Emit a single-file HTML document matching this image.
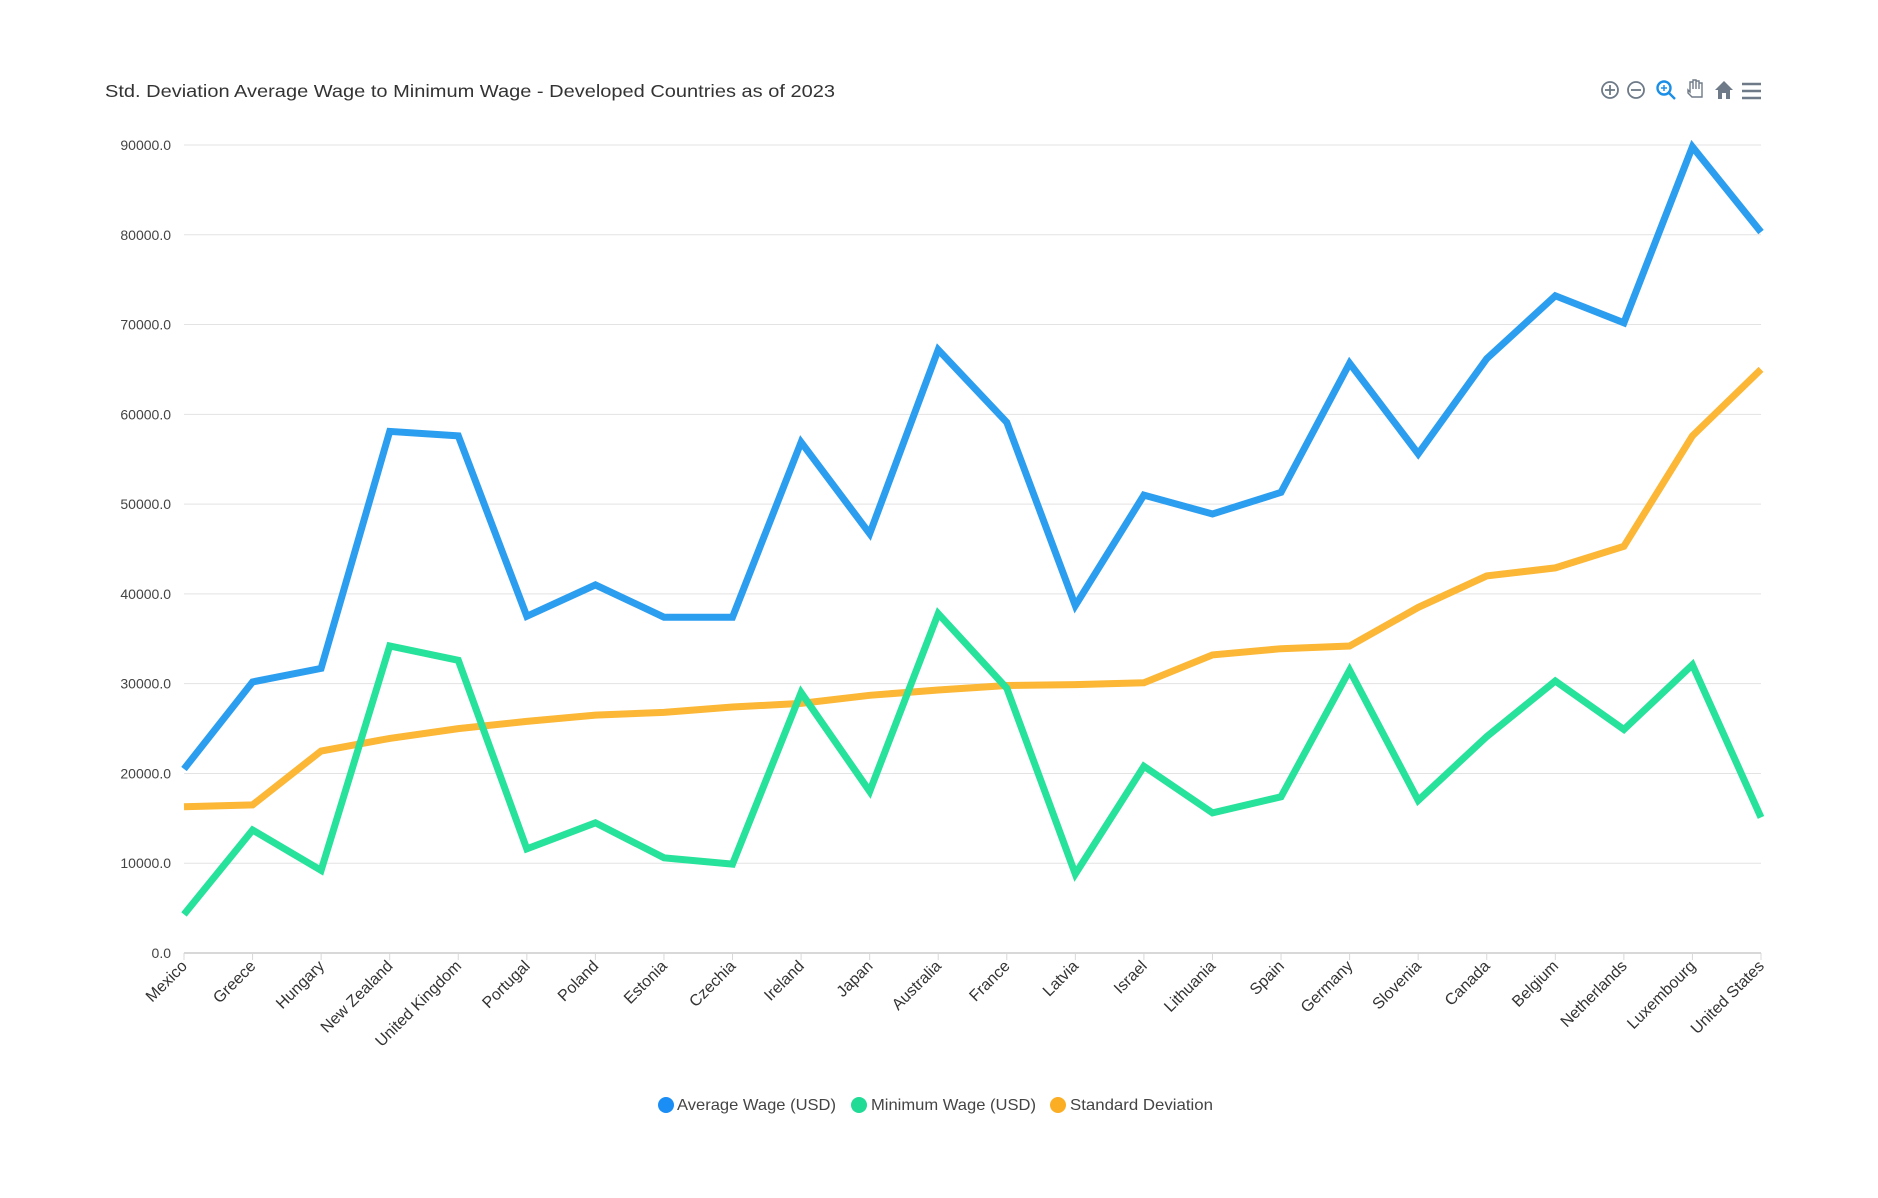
<!DOCTYPE html>
<html><head><meta charset="utf-8"><style>
html,body{margin:0;padding:0;background:#fff;}
body{width:1878px;height:1193px;overflow:hidden;font-family:"Liberation Sans",sans-serif;}
</style></head><body>
<svg id="c" width="1878" height="1193" xmlns="http://www.w3.org/2000/svg" font-family="Liberation Sans, sans-serif"></svg>
<script>
var cats=["Mexico","Greece","Hungary","New Zealand","United Kingdom","Portugal","Poland","Estonia","Czechia","Ireland","Japan","Australia","France","Latvia","Israel","Lithuania","Spain","Germany","Slovenia","Canada","Belgium","Netherlands","Luxembourg","United States"];
var avg=[20500,30200,31700,58100,57600,37500,41000,37400,37400,56900,46700,67200,59100,38700,51000,48900,51300,65700,55600,66200,73200,70200,89800,80300];
var mn=[4300,13700,9200,34200,32600,11600,14500,10600,9900,29000,18000,37800,29500,8800,20800,15600,17400,31500,17000,24100,30300,24900,32100,15100];
var sd=[16300,16500,22500,23900,25000,25800,26500,26800,27400,27800,28700,29300,29800,29900,30100,33200,33900,34200,38500,42000,42900,45300,57600,65000];
var x0=184,x1=1761,y0=953,yT=145;
function X(i){return x0+i*(x1-x0)/23;}
function Y(v){return y0-(y0-yT)*v/90000;}
var s='';
s+='<text x="105" y="97" font-size="17.5" fill="#333" textLength="730" lengthAdjust="spacingAndGlyphs">Std. Deviation Average Wage to Minimum Wage - Developed Countries as of 2023</text>';
for(var k=0;k<=9;k++){var y=Y(k*10000);
 s+='<line x1="'+x0+'" x2="'+x1+'" y1="'+y+'" y2="'+y+'" stroke="'+(k==0?'#d8d8d8':'#e3e3e3')+'" stroke-width="'+(k==0?2:1)+'"/>';
 s+='<text x="171" y="'+(y+5)+'" font-size="14" fill="#444" text-anchor="end">'+(k*10000)+'.0</text>';}
for(var i=0;i<24;i++){var x=X(i);
 s+='<line x1="'+x+'" x2="'+x+'" y1="953" y2="960" stroke="#d8d8d8"/>';
 s+='<text transform="translate('+(x+4)+',967) rotate(-45)" font-size="16" fill="#333" text-anchor="end">'+cats[i]+'</text>';}
function line(d,c){var p=d.map(function(v,i){return X(i).toFixed(1)+','+Y(v).toFixed(1)}).join(' ');
 return '<polyline points="'+p+'" fill="none" stroke="'+c+'" stroke-width="7" stroke-linejoin="miter" stroke-miterlimit="3"/>';}
s+=line(sd,'#fbb735');
s+=line(mn,'#27e29b');
s+=line(avg,'#2c9ef0');
var L=[[666,677,'#1b8ef6','Average Wage (USD)',159],[859,871,'#1fdb96','Minimum Wage (USD)',165],[1058,1070,'#fbad24','Standard Deviation',143]];
L.forEach(function(l){s+='<circle cx="'+l[0]+'" cy="1105" r="8" fill="'+l[2]+'"/><text x="'+l[1]+'" y="1110" font-size="16" fill="#444" textLength="'+l[4]+'" lengthAdjust="spacingAndGlyphs">'+l[3]+'</text>';});
s+='<g stroke="#6e7a88" stroke-width="1.8" fill="none"><circle cx="1610" cy="90" r="8"/><line x1="1605" x2="1615" y1="90" y2="90"/><line x1="1610" x2="1610" y1="85" y2="95"/>';
s+='<circle cx="1636" cy="90" r="8"/><line x1="1631" x2="1641" y1="90" y2="90"/></g>';
s+='<g stroke="#1a8fe8" stroke-width="2.4" fill="none"><circle cx="1664" cy="88" r="6.5"/><line x1="1669" y1="93" x2="1675" y2="99"/><line x1="1661" x2="1667" y1="88" y2="88" stroke-width="1.5"/><line x1="1664" x2="1664" y1="85" y2="91" stroke-width="1.5"/></g>';
s+='<path d="M1688 93 l4 4 h10 v-14 h-3 v6 v-8 h-3 v8 v-9 h-3 v9 v-7 h-3 v10 l-2 -2 z" fill="none" stroke="#6e7a88" stroke-width="1.4"/>';
s+='<path d="M1715 90 l9 -9 l9 9 h-3 v9 h-4 v-6 h-4 v6 h-4 v-9 z" fill="#6e7a88"/>';
s+='<g stroke="#6e7a88" stroke-width="2.4"><line x1="1742" x2="1761" y1="84" y2="84"/><line x1="1742" x2="1761" y1="91" y2="91"/><line x1="1742" x2="1761" y1="98" y2="98"/></g>';
document.getElementById('c').innerHTML=s;
</script>
</body></html>
